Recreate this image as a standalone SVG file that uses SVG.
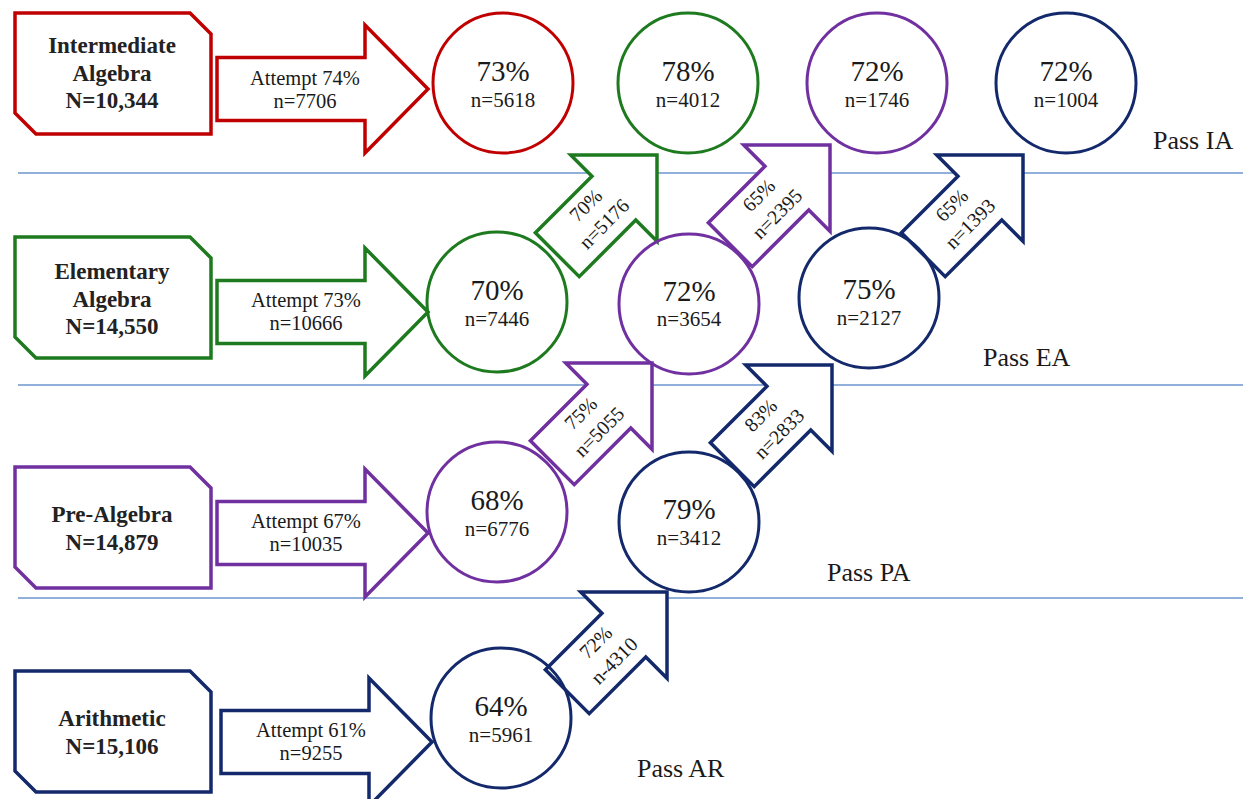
<svg xmlns="http://www.w3.org/2000/svg" xmlns:xlink="http://www.w3.org/1999/xlink" width="1243" height="799" viewBox="0 0 1243 799">
<style>
text{font-family:"Liberation Serif","Times New Roman",serif;fill:#1a1a1a;text-anchor:middle}
.box{fill:#fff;stroke-width:3.5;stroke-linejoin:miter}
.arr{fill:#fff;stroke-width:3.5;stroke-linejoin:miter}
.circ{fill:none;stroke-width:3}
.bt{font-size:23px;font-weight:bold;fill:#222}
.at{font-size:20.5px}
.pc{font-size:29px}
.nc{font-size:21px}
.dt{font-size:20px}
.pass{font-size:26px;text-anchor:start}
.red{stroke:#c00000}
.grn{stroke:#1e7a1e}
.pur{stroke:#7030a0}
.nav{stroke:#13296b}
.hl{stroke:#6b96cf;stroke-width:1.3}
</style>
<defs>
<path id="box" d="M0,0 H175 L196,21 V121 H21 L0,100 Z"/>
<path id="harr" d="M-211,-31.5 H-63 V-64 L0,0 L-63,64 V31.5 H-211 Z"/>
<path id="darr" d="M-141,-31 H-61 V-61 L0,0 L-61,61 V31 H-141 Z"/>
</defs>
<rect width="1243" height="799" fill="#fff"/>
<g id="lines">
<line class="hl" x1="18" y1="173" x2="1243" y2="173"/>
<line class="hl" x1="18" y1="385" x2="1243" y2="385"/>
<line class="hl" x1="18" y1="598" x2="1243" y2="598"/>
</g>
<g id="box-ia"><use href="#box" class="box red" x="15" y="13"/>
<text class="bt" x="112" y="53">Intermediate</text><text class="bt" x="112" y="81">Algebra</text><text class="bt" x="112" y="108">N=10,344</text></g>
<g id="box-ea"><use href="#box" class="box grn" x="15" y="237"/>
<text class="bt" x="112" y="279">Elementary</text><text class="bt" x="112" y="307">Algebra</text><text class="bt" x="112" y="334">N=14,550</text></g>
<g id="box-pa"><use href="#box" class="box pur" x="15" y="467"/>
<text class="bt" x="112" y="522">Pre-Algebra</text><text class="bt" x="112" y="550">N=14,879</text></g>
<g id="box-ar"><use href="#box" class="box nav" x="15" y="671"/>
<text class="bt" x="112" y="726">Arithmetic</text><text class="bt" x="112" y="754">N=15,106</text></g>
<g id="connectors">
<g id="att-ia"><use href="#harr" class="arr red" transform="translate(428,89)"/>
<text class="at" x="305" y="85">Attempt 74%</text><text class="at" x="305" y="108">n=7706</text></g>
<g id="att-ea"><use href="#harr" class="arr grn" transform="translate(428,312)"/>
<text class="at" x="306" y="307">Attempt 73%</text><text class="at" x="306" y="330">n=10666</text></g>
<g id="att-pa"><use href="#harr" class="arr pur" transform="translate(428,533)"/>
<text class="at" x="306" y="528">Attempt 67%</text><text class="at" x="306" y="551">n=10035</text></g>
<g id="att-ar"><use href="#harr" class="arr nav" transform="translate(432,742)"/>
<text class="at" x="311" y="737">Attempt 61%</text><text class="at" x="311" y="760">n=9255</text></g>
<g id="d1" transform="translate(657,155) rotate(-45)"><use href="#darr" class="arr grn"/>
<text class="dt" x="-86" y="-8">70%</text><text class="dt" x="-86" y="18">n=5176</text></g>
<g id="d2" transform="translate(830,145) rotate(-45)"><use href="#darr" class="arr pur"/>
<text class="dt" x="-86" y="-8">65%</text><text class="dt" x="-86" y="18">n=2395</text></g>
<g id="d3" transform="translate(1023,155) rotate(-45)"><use href="#darr" class="arr nav"/>
<text class="dt" x="-86" y="-8">65%</text><text class="dt" x="-86" y="18">n=1393</text></g>
<g id="d4" transform="translate(652,363) rotate(-45)"><use href="#darr" class="arr pur"/>
<text class="dt" x="-86" y="-8">75%</text><text class="dt" x="-86" y="18">n=5055</text></g>
<g id="d5" transform="translate(832,365) rotate(-45)"><use href="#darr" class="arr nav"/>
<text class="dt" x="-86" y="-8">83%</text><text class="dt" x="-86" y="18">n=2833</text></g>
<g id="d6" transform="translate(667,592) rotate(-45)"><use href="#darr" class="arr nav"/>
<text class="dt" x="-86" y="-8">72%</text><text class="dt" x="-86" y="18">n-4310</text></g>
</g>
<g id="c-ia-1"><circle class="circ red" cx="503" cy="83" r="70"/><text class="pc" x="503" y="81">73%</text><text class="nc" x="503" y="107">n=5618</text></g>
<g id="c-ia-2"><circle class="circ grn" cx="688" cy="83" r="70"/><text class="pc" x="688" y="81">78%</text><text class="nc" x="688" y="107">n=4012</text></g>
<g id="c-ia-3"><circle class="circ pur" cx="877" cy="83" r="70"/><text class="pc" x="877" y="81">72%</text><text class="nc" x="877" y="107">n=1746</text></g>
<g id="c-ia-4"><circle class="circ nav" cx="1066" cy="83" r="70"/><text class="pc" x="1066" y="81">72%</text><text class="nc" x="1066" y="107">n=1004</text></g>
<g id="c-ea-1"><circle class="circ grn" cx="497" cy="302" r="70"/><text class="pc" x="497" y="300">70%</text><text class="nc" x="497" y="326">n=7446</text></g>
<g id="c-ea-2"><circle class="circ pur" cx="689" cy="304" r="70"/><text class="pc" x="689" y="301">72%</text><text class="nc" x="689" y="326">n=3654</text></g>
<g id="c-ea-3"><circle class="circ nav" cx="869" cy="298" r="70"/><text class="pc" x="869" y="299">75%</text><text class="nc" x="869" y="325">n=2127</text></g>
<g id="c-pa-1"><circle class="circ pur" cx="497" cy="512" r="70"/><text class="pc" x="497" y="510">68%</text><text class="nc" x="497" y="536">n=6776</text></g>
<g id="c-pa-2"><circle class="circ nav" cx="689" cy="522" r="70"/><text class="pc" x="689" y="519">79%</text><text class="nc" x="689" y="545">n=3412</text></g>
<g id="c-ar-1"><circle class="circ nav" cx="501" cy="718" r="70"/><text class="pc" x="501" y="716">64%</text><text class="nc" x="501" y="742">n=5961</text></g>
<g id="pass-labels">
<text class="pass" x="1153" y="149">Pass IA</text>
<text class="pass" x="983" y="366">Pass EA</text>
<text class="pass" x="827" y="581">Pass PA</text>
<text class="pass" x="637" y="777">Pass AR</text>
</g>
</svg>
